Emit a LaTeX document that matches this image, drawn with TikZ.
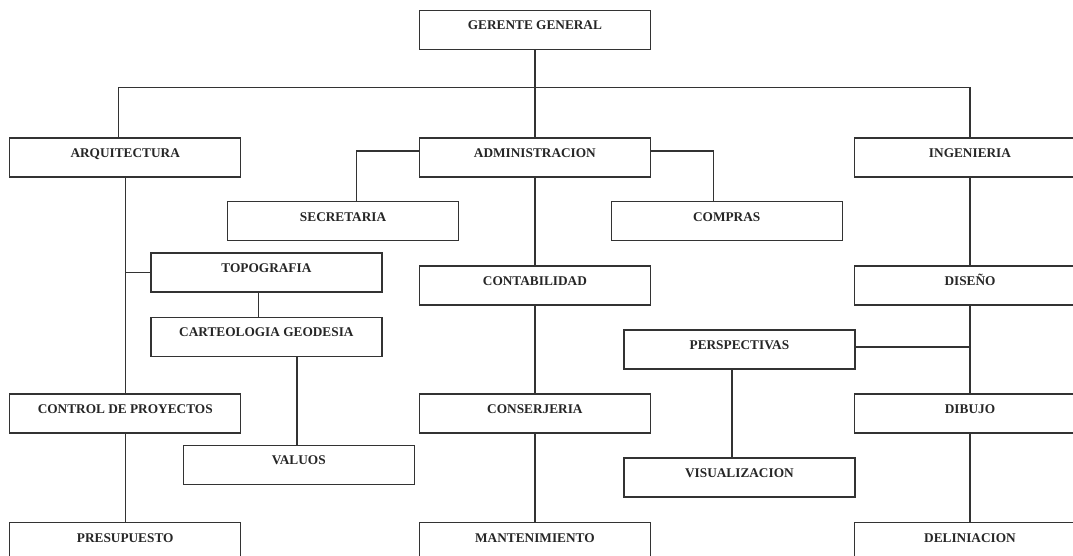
\documentclass[tikz,border=0pt]{standalone}
\usepackage{fontspec}
\setmainfont{Liberation Serif}
\begin{document}
\begin{tikzpicture}[x=1pt,y=-1pt,
  box/.style={draw=black!80, line width=1.2pt, rectangle, minimum width=231pt, minimum height=39pt,
    inner sep=0pt, text height=9pt, text depth=9pt, font=\fontsize{13.3}{14}\selectfont\bfseries, text=black!85},
  link/.style={draw=black!80, line width=1.2pt}]
\clip (0,0) rectangle (1073,556);
\fill[white] (0,0) rectangle (1073,556);
% nodes
\node[box] (GER) at (534.9,29.8) {GERENTE GENERAL};
\node[box] (ARQ) at (125.2,157.5) {ARQUITECTURA};
\node[box] (ADM) at (534.9,157.5) {ADMINISTRACION};
\node[box] (ING) at (970,157.5) {INGENIERIA};
\node[box] (SEC) at (343.1,221.2) {SECRETARIA};
\node[box] (COM) at (726.7,221.2) {COMPRAS};
\node[box] (TOPO) at (266.4,272.5) {TOPOGRAFIA};
\node[box] (CONT) at (534.9,285.5) {CONTABILIDAD};
\node[box] (DIS) at (970,285.5) {DISEÑO};
\node[box] (CART) at (266.4,336.9) {CARTEOLOGIA GEODESIA};
\node[box] (PERS) at (739.4,349.4) {PERSPECTIVAS};
\node[box] (CTRL) at (125.2,413.4) {CONTROL DE PROYECTOS};
\node[box] (CONS) at (534.9,413.4) {CONSERJERIA};
\node[box] (DIB) at (970,413.4) {DIBUJO};
\node[box] (VAL) at (298.8,464.8) {VALUOS};
\node[box] (VIS) at (739.4,477.5) {VISUALIZACION};
\node[box] (PRES) at (125.2,542.2) {PRESUPUESTO};
\node[box] (MANT) at (534.9,542.2) {MANTENIMIENTO};
\node[box] (DEL) at (970,542.2) {DELINIACION};
% helper coordinates
\coordinate (busL) at (118.3,87.7);
\coordinate (secX) at (356.2,151);
\coordinate (comX) at (713.7,151);
\coordinate (tcX) at (258.6,300);
\coordinate (cvX) at (296.9,400);
\coordinate (pvX) at (732,420);
% connectors
\draw[link] (GER.south) -- (ADM.north);
\draw[link] (ARQ.north -| busL) -- (busL) -- (busL -| ING.north) -- (ING.north);
\draw[link] (ADM.west |- secX) -- (secX) -- (SEC.north -| secX);
\draw[link] (ADM.east |- comX) -- (comX) -- (COM.north -| comX);
\draw[link] (ARQ.south) -- (CTRL.north);
\draw[link] (CTRL.south) -- (PRES.north);
\draw[link] (TOPO.west) -- (TOPO.west -| ARQ.south);
\draw[link] (TOPO.south -| tcX) -- (CART.north -| tcX);
\draw[link] (CART.south -| cvX) -- (VAL.north -| cvX);
\draw[link] (ADM.south) -- (CONT.north);
\draw[link] (CONT.south) -- (CONS.north);
\draw[link] (CONS.south) -- (MANT.north);
\draw[link] (ING.south) -- (DIS.north);
\draw[link] (DIS.south) -- (DIB.north);
\draw[link] (DIB.south) -- (DEL.north);
\draw[link] ([yshift=2.4pt]PERS.east) -- ([yshift=2.4pt]PERS.east -| DIS.south);
\draw[link] (PERS.south -| pvX) -- (VIS.north -| pvX);
\end{tikzpicture}
\end{document}
